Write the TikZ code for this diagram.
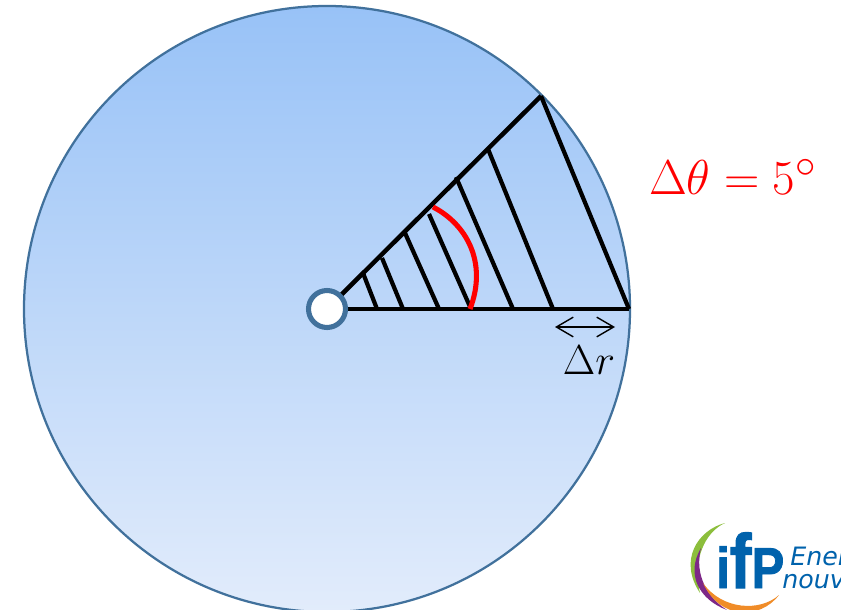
\documentclass[tikz,border=0pt]{standalone}
\usepackage{amsmath,amssymb}
\usepackage{fontspec}
\usepackage{tikz}
\usetikzlibrary{arrows.meta,positioning}
\newfontfamily\logofont[FakeBold=1.5]{Liberation Sans Bold}
\newfontfamily\slantfont{DejaVu Sans Oblique}
\definecolor{rimblue}{RGB}{65,113,156}
\definecolor{skytop}{RGB}{152,194,247}
\definecolor{skybottom}{RGB}{226,236,251}
\definecolor{logoblue}{RGB}{0,98,172}
\definecolor{logogreen}{RGB}{140,190,60}
\definecolor{logopurple}{RGB}{125,40,135}
\definecolor{logoorange}{RGB}{240,140,40}
\tikzset{
	ray/.style={line width=3.2pt,black},
	hatch/.style={line width=3pt,black},
	logotext/.style={text=logoblue,inner sep=0pt,anchor=base west,font=\slantfont\fontsize{18}{18}\selectfont}
}

\begin{document}
\begin{tikzpicture}[>=Stealth,x=0.025cm,y=-0.025cm]
		
		% Page frame, 841 by 610
		\clip (0,0) rectangle (841,610);
		
		% Disk
		\draw[rimblue,line width=1.6pt,top color=skytop,bottom color=skybottom] (327,309) circle (303);
		
		% Corners of the sector
		\coordinate (tip) at (541,96);
		\coordinate (edge) at (629,309);
		
		% Sides of the sector
		\draw[ray] (327,309) -- (tip);
		\draw[ray] (327,309) -- (edge);
		
		% Mesh lines
		\draw[hatch] (363,273) -- (377,309);
		\draw[hatch] (382,258) -- (403,309);
		\draw[hatch] (405,233) -- (439,309);
		\draw[hatch] (429,214) -- (471,309);
		\draw[hatch] (456,177) -- (513,309);
		\draw[hatch] (488,149) -- (553,309);
		\draw[hatch] (tip) -- (edge);
		
		% Angle mark
		\draw[red,line width=3.6pt] (433,207)
		.. controls (466,224) and (488,262) .. (470,309);
		
		% Hole at the centre
		\node[circle,draw=rimblue,fill=white,line width=3.6pt,minimum size=0.925cm,inner sep=0pt] (hub) at (327,309) {};
		
		% Labels
		\coordinate (stepa) at (555,327);
		\coordinate (stepb) at (615,327);
		\draw[{Straight Barb[length=12pt,width=14pt]}-{Straight Barb[length=12pt,width=14pt]},line width=1pt] (stepa) -- (stepb);
		\node[scale=1.2] (steplabel) at (589,360) {\fontsize{24.88}{30}\selectfont$\Delta r$};
		\node[red,scale=1.4] (anglelabel) at (733,177) {\fontsize{24.88}{30}\selectfont$\Delta\theta=5^\circ$};
		
		% Logo rings
		\fill[logogreen] (725,523) .. controls (698,530) and (678,560) .. (700,593)
		.. controls (692,560) and (705,532) .. (725,523);
		\fill[logopurple] (701,548) .. controls (685,575) and (700,600) .. (727,610)
		.. controls (708,598) and (694,575) .. (701,548);
		\fill[logoorange] (703,583) .. controls (720,620) and (760,620) .. (779,595)
		.. controls (760,612) and (722,610) .. (703,583);
		
		% Logo letters
		\node[text=logoblue,inner sep=0pt,anchor=base west,xscale=0.85,transform shape,font=\logofont] (logoname) at (716,588) {\fontsize{41}{41}\selectfont i\fontsize{54.6}{54.6}\selectfont f\fontsize{41}{41}\selectfont P};
		\node[logotext] (logotop) at (790,565) {Ener};
		\node[logotext] (logobottom) at (782,588) {nouv};
		
	\end{tikzpicture}
\end{document}
